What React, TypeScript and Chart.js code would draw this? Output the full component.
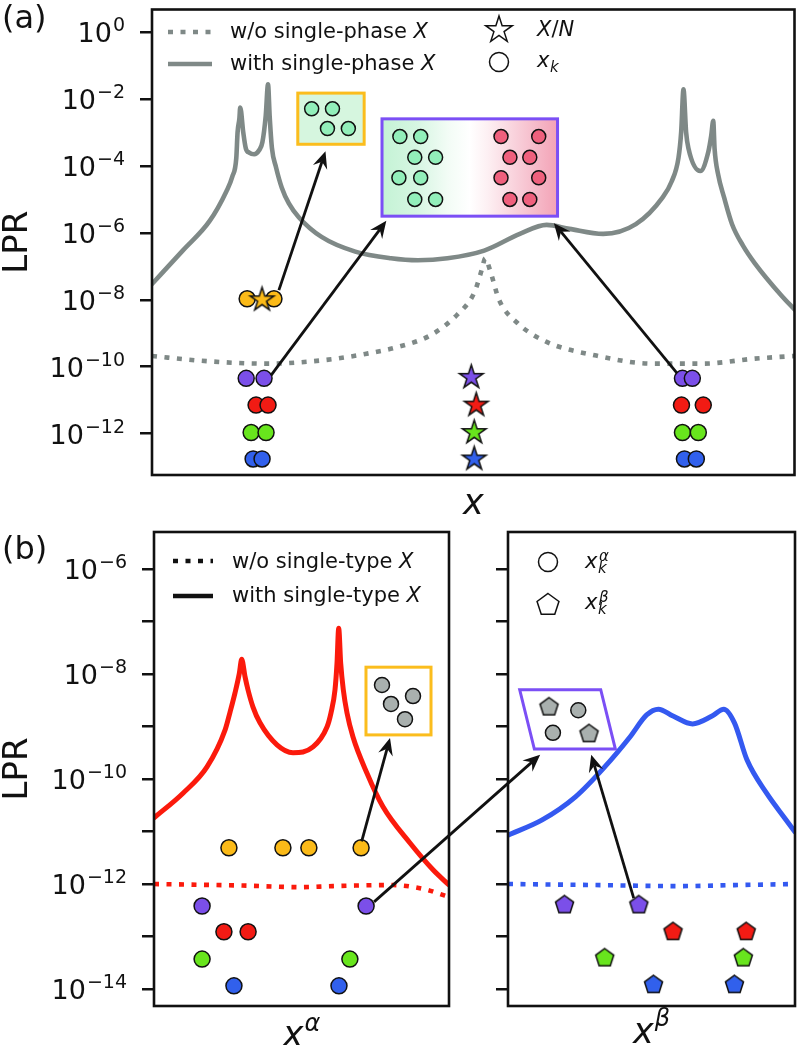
import React, { useEffect, useRef } from 'react';
import { Chart, registerables } from 'chart.js';

Chart.register(...registerables);

const W = 804;
const H = 1045;
const FONT = "'DejaVu Sans', 'Noto Sans', sans-serif";

// ---------------- colours ----------------
const GRAY = '#7f8987';
const PURPLE = '#7b4fe9';
const RED = '#f21b14';
const GREEN = '#68e51d';
const BLUE = '#3160ec';
const YELLOW = '#fbba18';
const BOX_YELLOW = '#fbbd1d';
const BOX_PURPLE = '#7b4ff5';
const INSET_GREEN = '#92efba';
const INSET_PINK = '#ef607d';
const INSET_GRAY = '#a9b0ae';
const CURVE_RED = '#fb1a0c';
const CURVE_BLUE = '#3459f0';

// ---------------- panel (a): x in arbitrary units (0-100), values as log10(LPR) ----------------
const aWithX = [0, 4.78, 8.95, 11.57, 12.5, 13.12, 13.32, 13.61, 13.73, 14.2, 14.61, 15.12, 15.9, 16.67, 17.18, 17.7, 18.06, 18.31, 18.67, 19.29, 20.2, 21.3, 22.84, 26.39, 31.64, 37.19, 41.36, 45.99, 51.7, 57.25, 61.42, 64.97, 70.22, 75.31, 79.48, 80.86, 81.94, 82.36, 82.72, 83.13, 83.49, 85.34, 86.57, 87.04, 87.35, 87.56, 88.12, 89.04, 90.28, 91.98, 93.83, 97.99, 100];
const aWithLog = [-7.53, -6.53, -5.65, -4.76, -4.32, -3.76, -2.99, -2.56, -2.25, -2.99, -3.48, -3.6, -3.65, -3.53, -3.29, -2.5, -1.56, -2.5, -3.47, -4.03, -4.65, -5.12, -5.53, -6.12, -6.56, -6.76, -6.82, -6.76, -6.53, -6.03, -5.76, -5.88, -6.03, -5.74, -4.94, -4.47, -3.76, -2.99, -1.71, -2.99, -3.47, -4.15, -3.59, -3.09, -2.65, -3.48, -4.26, -4.94, -5.74, -6.38, -6.91, -7.88, -8.29];

const aWithoutX = [0, 7.41, 17.75, 27.47, 33.18, 38.27, 43.36, 47.53, 50.15, 51.39, 51.85, 52.62, 54.01, 56.79, 61.42, 68.67, 77.93, 85.65, 93.83, 100];
const aWithoutLog = [-9.68, -9.82, -9.91, -9.79, -9.62, -9.41, -9.06, -8.44, -7.79, -7.06, -6.76, -7.12, -8.0, -8.68, -9.26, -9.65, -9.91, -9.91, -9.76, -9.68];

// markers [x, log10(LPR)]
const aYellowCircles = [[14.81, -7.97], [18.98, -7.97]];
const aYellowStar = [[17.13, -8.0]];
const aPurpleCircles = [[14.66, -10.35], [17.44, -10.35], [82.56, -10.35], [84.1, -10.35]];
const aRedCircles = [[16.2, -11.15], [18.06, -11.15], [82.41, -11.15], [85.8, -11.15]];
const aGreenCircles = [[15.43, -11.97], [17.75, -11.97], [82.56, -11.97], [85.03, -11.97]];
const aBlueCircles = [[15.74, -12.76], [17.13, -12.76], [82.87, -12.76], [84.72, -12.76]];
const aStars = [[49.69, -10.32], [50.46, -11.15], [50.15, -11.97], [50.15, -12.76]];
const aStarColors = [PURPLE, RED, GREEN, BLUE];

// insets of panel (a)
const aSmallBox = [22.69, -1.82, 33.02, -3.35];
const aSmallBoxCircles = [[24.85, -2.29], [28.09, -2.29], [27.31, -2.88], [30.56, -2.88]];
const aBigBox = [35.8, -2.59, 63.12, -5.5];
const aBigBoxGreen = [[38.58, -3.12], [41.82, -3.12], [40.9, -3.74], [44.14, -3.74], [38.43, -4.35], [41.82, -4.35], [40.9, -5.0], [44.14, -5.0]];
const aBigBoxPink = [[54.32, -3.12], [60.19, -3.12], [55.71, -3.74], [58.8, -3.74], [54.32, -4.35], [60.19, -4.35], [55.71, -5.0], [58.8, -5.0]];
const aArrows = [[19.75, -7.71, 27.0, -3.56], [18.52, -10.26, 36.47, -5.64], [81.74, -10.2, 62.55, -5.71]];

const aTickExps = [0, -2, -4, -6, -8, -10, -12];

// ---------------- panel (b) ----------------
const bRedX = [0, 9.83, 17.97, 24.07, 25.76, 27.46, 28.92, 29.73, 30.85, 31.86, 33.56, 35.93, 41.69, 47.12, 53.9, 58.64, 60.0, 61.36, 62.03, 62.61, 63.29, 64.17, 65.42, 67.46, 72.2, 77.63, 86.78, 94.58, 100];
const bRedLog = [-10.74, -10.27, -9.77, -9.07, -8.73, -8.36, -7.99, -7.72, -8.05, -8.3, -8.63, -8.93, -9.35, -9.5, -9.39, -9.01, -8.74, -8.3, -7.8, -7.13, -7.8, -8.3, -8.74, -9.2, -9.89, -10.53, -11.22, -11.73, -12.02];
const bRedDotX = [0, 30, 49.5, 60.7, 81.0, 92.5, 95.9, 100];
const bRedDotLog = [-12.0, -12.03, -12.06, -12.04, -12.02, -12.11, -12.17, -12.25];

const bBlueX = [0, 11.9, 23.5, 33.7, 42.5, 48.3, 52.4, 57.5, 64.3, 71.1, 75.2, 78.9, 83.3, 90.1, 96.9, 100];
const bBlueLog = [-11.07, -10.78, -10.34, -9.77, -9.2, -8.78, -8.67, -8.8, -8.95, -8.8, -8.67, -8.93, -9.64, -10.27, -10.78, -11.01];
const bBlueDotX = [0, 30, 59.5, 80, 100];
const bBlueDotLog = [-12.0, -12.02, -12.04, -12.02, -12.0];

const bYellowCircles = [[25.4, -11.31], [43.7, -11.31], [52.5, -11.31], [70.2, -11.31]];
const bPurpleCircles = [[16.3, -12.42], [71.9, -12.42]];
const bRedCircles = [[23.7, -12.91], [31.9, -12.91]];
const bGreenCircles = [[16.3, -13.43], [66.4, -13.43]];
const bBlueCircles = [[27.1, -13.94], [62.7, -13.94]];

const bPurplePent = [[19.7, -12.4], [45.6, -12.4]];
const bRedPent = [[57.5, -12.91], [83.0, -12.91]];
const bGreenPent = [[33.7, -13.41], [82.0, -13.41]];
const bBluePent = [[50.7, -13.92], [78.9, -13.92]];

const bLeftBox = [71.86, -7.87, 93.9, -9.16];
const bLeftBoxCircles = [[77.29, -8.21], [87.8, -8.42], [80.34, -8.57], [85.08, -8.86]];
const bParallelogram = [[4.08, -8.3], [32.31, -8.3], [37.41, -9.43], [9.18, -9.43]];
const bParaCircles = [[24.49, -8.69], [15.65, -9.12]];
const bParaPents = [[14.29, -8.63], [28.23, -9.14]];

const bLeftArrows = [[70.4, -11.19, 80.0, -9.22]];
const bCrossArrow = [74.6, -12.34, 11.2, -9.54]; // start in left panel, tip in right panel
const bRightArrows = [[43.8, -12.27, 29.0, -9.54]];

const bTickExps = [-6, -7, -8, -9, -10, -11, -12, -13, -14];
const bLabelExps = [-6, -8, -10, -12, -14];

// ---------------- helpers ----------------
const toPoints = (xs: number[], logs: number[]) => xs.map((x, i) => ({ x, y: Math.pow(10, logs[i]) }));
const pairPoints = (pairs: number[][]) => pairs.map(([x, l]) => ({ x, y: Math.pow(10, l) }));

function starPath(ctx: any, cx: number, cy: number, R: number) {
  ctx.beginPath();
  for (let i = 0; i < 10; i++) {
    const r = i % 2 === 0 ? R : R * 0.382;
    const a = -Math.PI / 2 + (i * Math.PI) / 5;
    const x = cx + r * Math.cos(a);
    const y = cy + r * Math.sin(a);
    if (i === 0) ctx.moveTo(x, y);
    else ctx.lineTo(x, y);
  }
  ctx.closePath();
}
function pentPath(ctx: any, cx: number, cy: number, R: number) {
  ctx.beginPath();
  for (let i = 0; i < 5; i++) {
    const a = -Math.PI / 2 + (i * 2 * Math.PI) / 5;
    const x = cx + R * Math.cos(a);
    const y = cy + R * Math.sin(a);
    if (i === 0) ctx.moveTo(x, y);
    else ctx.lineTo(x, y);
  }
  ctx.closePath();
}
function markerCanvas(kind: string, fill: string, R: number) {
  const c = document.createElement('canvas');
  const s = Math.ceil(2 * R + 6);
  c.width = s;
  c.height = s;
  const ctx = c.getContext('2d')!;
  if (kind === 'star') starPath(ctx, s / 2, s / 2, R);
  else pentPath(ctx, s / 2, s / 2, R);
  ctx.fillStyle = fill;
  ctx.fill();
  ctx.lineWidth = 1.5;
  ctx.strokeStyle = '#111';
  ctx.stroke();
  return c;
}

const DOT = [5, 7.5];

function lineDs(points: any[], color: string, width: number, dash: number[] | null) {
  return {
    data: points,
    showLine: true,
    borderColor: color,
    borderWidth: width,
    borderDash: dash || [],
    borderCapStyle: dash ? 'butt' : 'round',
    borderJoinStyle: 'round',
    cubicInterpolationMode: 'monotone',
    pointRadius: 0,
    pointHoverRadius: 0,
    fill: false,
  };
}
function dotDs(pairs: number[][], color: string, r: number) {
  return {
    data: pairPoints(pairs),
    showLine: false,
    pointStyle: 'circle',
    pointRadius: r,
    pointHoverRadius: r,
    pointBackgroundColor: color,
    pointBorderColor: '#111',
    pointBorderWidth: 1.5,
  };
}
function imgDs(pairs: number[][], imgs: any[]) {
  return {
    data: pairPoints(pairs),
    showLine: false,
    pointStyle: imgs,
    pointRadius: 8,
    pointHoverRadius: 8,
    pointBorderWidth: 0,
  };
}

function yScale(minExp: number, maxExp: number, tickExps: number[]) {
  return {
    type: 'logarithmic',
    position: 'left',
    min: Math.pow(10, minExp),
    max: Math.pow(10, maxExp),
    bounds: 'data',
    afterBuildTicks: (s: any) => {
      s.ticks = tickExps.map((e) => ({ value: Math.pow(10, e) }));
    },
    afterFit: (s: any) => {
      s.width = 0;
    },
    ticks: { display: false },
    grid: {
      display: true,
      drawOnChartArea: false,
      drawTicks: true,
      tickLength: 12,
      tickWidth: 2.5,
      tickColor: '#111',
      color: '#111',
      lineWidth: 2.5,
    },
    border: { display: false },
  };
}
const xScale = { type: 'linear', min: 0, max: 100, display: false };

function baseOptions(padding: any, y: any) {
  return {
    responsive: false,
    animation: false,
    devicePixelRatio: 1,
    events: [],
    layout: { padding },
    plugins: { legend: { display: false }, tooltip: { enabled: false } },
    scales: { x: xScale, y },
  };
}

const pix = (chart: any, x: number, l: number) => [chart.scales.x.getPixelForValue(x), chart.scales.y.getPixelForValue(Math.pow(10, l))];

function drawArrow(ctx: any, x0: number, y0: number, x1: number, y1: number) {
  const ang = Math.atan2(y1 - y0, x1 - x0);
  const L = 17;
  const Wd = 7.5;
  const N = 11;
  const c = Math.cos(ang);
  const s = Math.sin(ang);
  const bx = x1 - N * c;
  const by = y1 - N * s;
  ctx.save();
  ctx.setLineDash([]);
  ctx.strokeStyle = '#111';
  ctx.fillStyle = '#111';
  ctx.lineWidth = 2.8;
  ctx.lineCap = 'butt';
  ctx.beginPath();
  ctx.moveTo(x0, y0);
  ctx.lineTo(bx, by);
  ctx.stroke();
  const hx = x1 - L * c;
  const hy = y1 - L * s;
  ctx.beginPath();
  ctx.moveTo(x1, y1);
  ctx.lineTo(hx - Wd * s, hy + Wd * c);
  ctx.lineTo(bx, by);
  ctx.lineTo(hx + Wd * s, hy - Wd * c);
  ctx.closePath();
  ctx.fill();
  ctx.restore();
}
function drawArrows(chart: any, list: number[][]) {
  list.forEach(([x0, l0, x1, l1]) => {
    const [a, b] = pix(chart, x0, l0);
    const [c, d] = pix(chart, x1, l1);
    drawArrow(chart.ctx, a, b, c, d);
  });
}

function frame(chart: any) {
  const { ctx, chartArea: ca } = chart;
  ctx.save();
  ctx.setLineDash([]);
  ctx.strokeStyle = '#111';
  ctx.lineWidth = 2.6;
  ctx.strokeRect(ca.left, ca.top, ca.right - ca.left, ca.bottom - ca.top);
  ctx.restore();
}

function text(ctx: any, s: string, x: number, y: number, size: number, italic = false, align = 'left') {
  ctx.font = `${italic ? 'italic ' : ''}${size}px ${FONT}`;
  ctx.textAlign = align;
  ctx.textBaseline = 'alphabetic';
  ctx.fillStyle = '#111';
  ctx.fillText(s, x, y);
  return ctx.measureText(s).width;
}

function tickLabels(chart: any, exps: number[]) {
  const { ctx, chartArea } = chart;
  const right = chartArea.left - 27;
  ctx.save();
  exps.forEach((e) => {
    const py = chart.scales.y.getPixelForValue(Math.pow(10, e));
    const ex = e === 0 ? '0' : '\u2212' + Math.abs(e);
    ctx.font = `19px ${FONT}`;
    const ew = ctx.measureText(ex).width;
    ctx.font = `27px ${FONT}`;
    const bw = ctx.measureText('10').width;
    const x0 = right - ew - bw - 1;
    text(ctx, '10', x0, py + 10, 27);
    text(ctx, ex, x0 + bw + 1, py - 1, 19);
  });
  ctx.restore();
}

function yTitle(chart: any) {
  const { ctx, chartArea: ca } = chart;
  ctx.save();
  ctx.translate(27, (ca.top + ca.bottom) / 2);
  ctx.rotate(-Math.PI / 2);
  text(ctx, 'LPR', 0, 0, 34, false, 'center');
  ctx.restore();
}

function lineSample(ctx: any, x0: number, x1: number, y: number, color: string, dash: number[] | null) {
  ctx.save();
  ctx.strokeStyle = color;
  ctx.lineWidth = 4.5;
  ctx.lineCap = 'butt';
  ctx.setLineDash(dash || []);
  ctx.beginPath();
  ctx.moveTo(x0, y);
  ctx.lineTo(x1, y);
  ctx.stroke();
  ctx.restore();
}

function outlineShape(ctx: any, kind: string, x: number, y: number, R: number) {
  ctx.save();
  ctx.setLineDash([]);
  if (kind === 'star') starPath(ctx, x, y, R);
  else if (kind === 'pent') pentPath(ctx, x, y, R);
  else {
    ctx.beginPath();
    ctx.arc(x, y, R, 0, Math.PI * 2);
  }
  ctx.fillStyle = '#fff';
  ctx.fill();
  ctx.lineWidth = 1.5;
  ctx.strokeStyle = '#111';
  ctx.stroke();
  ctx.restore();
}

function xSubSup(ctx: any, x: number, base: number, sup: string | null) {
  const w = text(ctx, 'x', x, base, 21, true);
  text(ctx, 'k', x + w + 0.5, base + 5, 15, true);
  if (sup) text(ctx, sup, x + w + 1.5, base - 7, 15, true);
}

function rectPix(chart: any, box: number[]) {
  const [x0, y0] = pix(chart, box[0], box[1]);
  const [x1, y1] = pix(chart, box[2], box[3]);
  return [x0, y0, x1 - x0, y1 - y0];
}

// ---------------- plugins ----------------
const pluginA = {
  id: 'decorA',
  beforeDatasetDraw(chart: any, args: any) {
    if (!chart.data.datasets[args.index].insetStart) return;
    const { ctx } = chart;
    ctx.save();
    ctx.setLineDash([]);
    const [sx, sy, sw, sh] = rectPix(chart, aSmallBox);
    ctx.fillStyle = '#d6f6df';
    ctx.fillRect(sx, sy, sw, sh);
    ctx.strokeStyle = BOX_YELLOW;
    ctx.lineWidth = 3;
    ctx.strokeRect(sx, sy, sw, sh);
    const [bx, by, bw, bh] = rectPix(chart, aBigBox);
    const g = ctx.createLinearGradient(bx, 0, bx + bw, 0);
    g.addColorStop(0, '#c4f3d5');
    g.addColorStop(0.2, '#d6f6e2');
    g.addColorStop(0.38, '#f3fcf6');
    g.addColorStop(0.5, '#ffffff');
    g.addColorStop(0.6, '#fdf0f3');
    g.addColorStop(0.78, '#f8cdd8');
    g.addColorStop(1, '#f3a2b6');
    ctx.fillStyle = g;
    ctx.fillRect(bx, by, bw, bh);
    ctx.strokeStyle = BOX_PURPLE;
    ctx.strokeRect(bx, by, bw, bh);
    ctx.restore();
  },
  afterDatasetsDraw(chart: any) {
    frame(chart);
    drawArrows(chart, aArrows);
  },
  afterDraw(chart: any) {
    const { ctx, chartArea: ca } = chart;
    tickLabels(chart, aTickExps);
    yTitle(chart);
    text(ctx, '(a)', 2, 28, 32);
    text(ctx, 'x', (ca.left + ca.right) / 2, 514, 35, true, 'center');
    // legend
    lineSample(ctx, 168, 212, 32, GRAY, DOT);
    lineSample(ctx, 168, 212, 64, GRAY, null);
    let w = text(ctx, 'w/o single-phase ', 230, 38, 21);
    text(ctx, 'X', 230 + w, 38, 21, true);
    w = text(ctx, 'with single-phase ', 230, 70, 21);
    text(ctx, 'X', 230 + w, 70, 21, true);
    outlineShape(ctx, 'star', 499, 30, 14);
    outlineShape(ctx, 'circle', 499, 62, 9.5);
    let p = 537;
    p += text(ctx, 'X', p, 36, 21, true);
    p += text(ctx, '/', p, 36, 21);
    text(ctx, 'N', p, 36, 21, true);
    xSubSup(ctx, 537, 67, null);
  },
};

const pluginBL = {
  id: 'decorBL',
  beforeDatasetDraw(chart: any, args: any) {
    if (!chart.data.datasets[args.index].insetStart) return;
    const { ctx } = chart;
    ctx.save();
    ctx.setLineDash([]);
    const [x, y, w, h] = rectPix(chart, bLeftBox);
    ctx.fillStyle = '#ffffff';
    ctx.fillRect(x, y, w, h);
    ctx.strokeStyle = BOX_YELLOW;
    ctx.lineWidth = 3;
    ctx.strokeRect(x, y, w, h);
    ctx.restore();
  },
  afterDatasetsDraw(chart: any) {
    frame(chart);
    drawArrows(chart, bLeftArrows);
  },
  afterDraw(chart: any) {
    const { ctx, chartArea: ca } = chart;
    tickLabels(chart, bLabelExps);
    yTitle(chart);
    text(ctx, '(b)', 2, 559, 32);
    const cx = (ca.left + ca.right) / 2;
    ctx.font = `italic 35px ${FONT}`;
    const wx = ctx.measureText('x').width;
    ctx.font = `italic 24px ${FONT}`;
    const wa = ctx.measureText('\u03b1').width;
    const x0 = cx - (wx + wa + 1) / 2;
    text(ctx, 'x', x0, 1046, 35, true);
    text(ctx, '\u03b1', x0 + wx + 1, 1031, 24, true);
    lineSample(ctx, 173, 213, 561, '#111', DOT);
    lineSample(ctx, 173, 213, 596, '#111', null);
    let w = text(ctx, 'w/o single-type ', 232, 568, 21);
    text(ctx, 'X', 232 + w, 568, 21, true);
    w = text(ctx, 'with single-type ', 232, 602, 21);
    text(ctx, 'X', 232 + w, 602, 21, true);
  },
};

function makePluginBR(getLeft: () => any) {
  return {
    id: 'decorBR',
    beforeDatasetDraw(chart: any, args: any) {
      if (!chart.data.datasets[args.index].insetStart) return;
      const { ctx } = chart;
      ctx.save();
      ctx.setLineDash([]);
      ctx.beginPath();
      bParallelogram.forEach(([x, l], i) => {
        const [px, py] = pix(chart, x, l);
        if (i === 0) ctx.moveTo(px, py);
        else ctx.lineTo(px, py);
      });
      ctx.closePath();
      ctx.fillStyle = '#ffffff';
      ctx.fill();
      ctx.strokeStyle = BOX_PURPLE;
      ctx.lineWidth = 3;
      ctx.stroke();
      ctx.restore();
    },
    afterDatasetsDraw(chart: any) {
      frame(chart);
      drawArrows(chart, bRightArrows);
      const left = getLeft();
      if (left) {
        const [a, b] = pix(left, bCrossArrow[0], bCrossArrow[1]);
        const [c, d] = pix(chart, bCrossArrow[2], bCrossArrow[3]);
        drawArrow(chart.ctx, a, b, c, d);
      }
    },
    afterDraw(chart: any) {
      const { ctx, chartArea: ca } = chart;
      const cx = (ca.left + ca.right) / 2;
      ctx.font = `italic 35px ${FONT}`;
      const wx = ctx.measureText('x').width;
      ctx.font = `italic 24px ${FONT}`;
      const wb = ctx.measureText('\u03b2').width;
      const x0 = cx - (wx + wb + 1) / 2;
      text(ctx, 'x', x0, 1043, 35, true);
      text(ctx, '\u03b2', x0 + wx + 1, 1026, 24, true);
      outlineShape(ctx, 'circle', 548, 562, 9.5);
      outlineShape(ctx, 'pent', 548, 605, 11.5);
      xSubSup(ctx, 585, 568, '\u03b1');
      xSubSup(ctx, 585, 609, '\u03b2');
    },
  };
}

function withOrder(ds: any[]) {
  ds.forEach((d, i) => {
    d.order = ds.length - i;
  });
  return ds;
}

function configA() {
  const stars = aStarColors.map((c) => markerCanvas('star', c, 12.5));
  const ds = withOrder([
    lineDs(toPoints(aWithX, aWithLog), GRAY, 4.6, null),
    lineDs(toPoints(aWithoutX, aWithoutLog), GRAY, 4.6, DOT),
    dotDs(aYellowCircles, YELLOW, 8),
    imgDs(aYellowStar, [markerCanvas('star', YELLOW, 12.5)]),
    dotDs(aPurpleCircles, PURPLE, 8),
    dotDs(aRedCircles, RED, 8),
    dotDs(aGreenCircles, GREEN, 8),
    dotDs(aBlueCircles, BLUE, 8),
    imgDs(aStars, stars),
    { ...dotDs(aSmallBoxCircles, INSET_GREEN, 7), insetStart: true },
    dotDs(aBigBoxGreen, INSET_GREEN, 7),
    dotDs(aBigBoxPink, INSET_PINK, 7),
  ]);
  return {
    type: 'scatter',
    data: { datasets: ds },
    options: baseOptions({ left: 152, right: 3, top: 2, bottom: H - 475 }, yScale(-13.24, 0.68, aTickExps)),
    plugins: [pluginA],
  };
}

function configBL() {
  const ds = withOrder([
    lineDs(toPoints(bRedX, bRedLog), CURVE_RED, 5, null),
    lineDs(toPoints(bRedDotX, bRedDotLog), CURVE_RED, 4.6, DOT),
    dotDs(bYellowCircles, YELLOW, 8),
    dotDs(bPurpleCircles, PURPLE, 8),
    dotDs(bRedCircles, RED, 8),
    dotDs(bGreenCircles, GREEN, 8),
    dotDs(bBlueCircles, BLUE, 8),
    { ...dotDs(bLeftBoxCircles, INSET_GRAY, 7.5), insetStart: true },
  ]);
  return {
    type: 'scatter',
    data: { datasets: ds },
    options: baseOptions({ left: 154, right: W - 449, top: 532, bottom: H - 1006 }, yScale(-14.324, -5.295, bTickExps)),
    plugins: [pluginBL],
  };
}

function configBR(getLeft: () => any) {
  const pent = (c: string, n: number) => Array.from({ length: n }, () => markerCanvas('pent', c, 9.5));
  const ds = withOrder([
    lineDs(toPoints(bBlueX, bBlueLog), CURVE_BLUE, 5, null),
    lineDs(toPoints(bBlueDotX, bBlueDotLog), CURVE_BLUE, 4.6, DOT),
    imgDs(bPurplePent, pent(PURPLE, bPurplePent.length)),
    imgDs(bRedPent, pent(RED, bRedPent.length)),
    imgDs(bGreenPent, pent(GREEN, bGreenPent.length)),
    imgDs(bBluePent, pent(BLUE, bBluePent.length)),
    { ...dotDs(bParaCircles, INSET_GRAY, 7.5), insetStart: true },
    imgDs(bParaPents, pent(INSET_GRAY, bParaPents.length)),
  ]);
  return {
    type: 'scatter',
    data: { datasets: ds },
    options: baseOptions({ left: 508, right: 2, top: 532, bottom: H - 1006 }, yScale(-14.324, -5.295, bTickExps)),
    plugins: [makePluginBR(getLeft)],
  };
}

export default function App() {
  const refA = useRef<HTMLCanvasElement>(null);
  const refBL = useRef<HTMLCanvasElement>(null);
  const refBR = useRef<HTMLCanvasElement>(null);

  useEffect(() => {
    const a = new Chart(refA.current as any, configA() as any);
    const bl = new Chart(refBL.current as any, configBL() as any);
    const br = new Chart(refBR.current as any, configBR(() => bl) as any);
    return () => {
      a.destroy();
      bl.destroy();
      br.destroy();
    };
  }, []);

  const cs: any = { position: 'absolute', left: 0, top: 0, width: W, height: H };
  return (
    <div style={{ position: 'absolute', left: 0, top: 0, width: W, height: H, background: '#fff', overflow: 'hidden' }}>
      <canvas ref={refA} width={W} height={H} style={cs} />
      <canvas ref={refBL} width={W} height={H} style={cs} />
      <canvas ref={refBR} width={W} height={H} style={cs} />
    </div>
  );
}
